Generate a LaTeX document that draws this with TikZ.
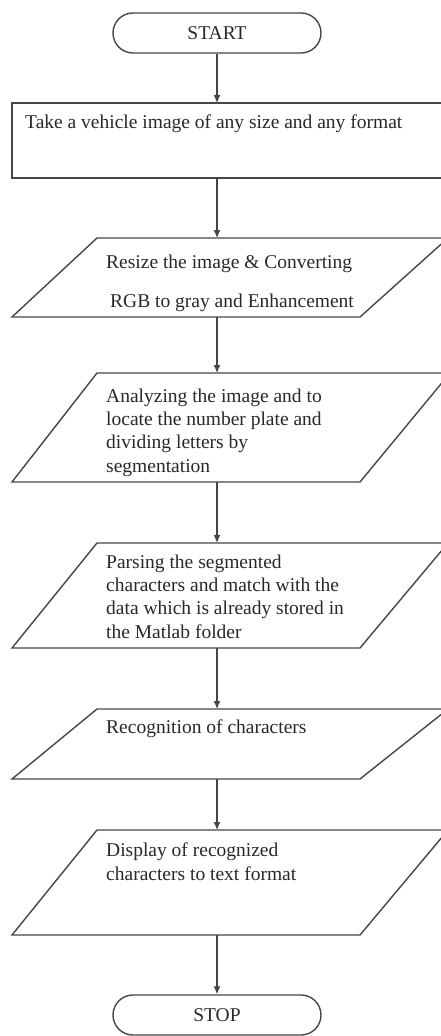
\documentclass[tikz,border=0pt]{standalone}
\usepackage{fontspec}
\setmainfont{Liberation Serif}
\usetikzlibrary{arrows.meta}
\definecolor{linegray}{RGB}{70,70,70}
\definecolor{textblack}{RGB}{40,40,40}
\begin{document}
\begin{tikzpicture}[x=1pt,y=-1pt,
  shapeline/.style={draw=linegray, line width=1.4pt, line join=miter},
  term/.style={shapeline, rounded corners=20pt, minimum width=208pt, minimum height=40pt,
    inner sep=0pt, font=\fontsize{19.5}{22}\selectfont, text=textblack},
  txt/.style={inner sep=0pt, anchor=base west, align=left, text=textblack,
    font=\fontsize{19.5}{23.3}\selectfont},
  arr/.style={draw=linegray, line width=1.3pt, -{Latex[length=8pt,width=7pt]}}]
\useasboundingbox (0,0) rectangle (441,1036);
\begin{scope}
\clip (0,0) rectangle (441,1036);
% START
\node[term] (start) at (217,33) {START};
% rectangle
\draw[shapeline] (445,103) -- (12,103) -- (12,178) -- (445,178);
\coordinate (r-top) at (217,103);
\coordinate (r-bot) at (217,178);
\node[txt] (t0) at (25,128) {Take a vehicle image of any size and any format};
% parallelograms (multi-line text nodes are placed at their last baseline)
\draw[shapeline] (12,317) -- (360,317) -- (448,238) -- (97,238) -- cycle;
\coordinate (p1-top) at (217,238); \coordinate (p1-bot) at (217,317);
\node[txt] (t1a) at (106,268) {Resize the image \& Converting};
\node[txt] (t1b) at (110,307) {RGB to gray and Enhancement};
\draw[shapeline] (12,482) -- (360,482) -- (450,373) -- (97,373) -- cycle;
\coordinate (p2-top) at (217,373); \coordinate (p2-bot) at (217,482);
\node[txt] (t2) at (106,472) {Analyzing the image and to\\locate the number plate and\\dividing letters by\\segmentation};
\draw[shapeline] (12,648) -- (360,648) -- (448,543) -- (97,543) -- cycle;
\coordinate (p3-top) at (217,543); \coordinate (p3-bot) at (217,648);
\node[txt] (t3) at (106,638) {Parsing the segmented\\characters and match with the\\data which is already stored in\\the Matlab folder};
\draw[shapeline] (12,779) -- (360,779) -- (448,709) -- (97,709) -- cycle;
\coordinate (p4-top) at (217,709); \coordinate (p4-bot) at (217,779);
\node[txt] (t4) at (106,733) {Recognition of characters};
\draw[shapeline] (12,935) -- (360,935) -- (448,830) -- (97,830) -- cycle;
\coordinate (p5-top) at (217,830); \coordinate (p5-bot) at (217,935);
\node[txt] (t5) at (106,880) {Display of recognized\\characters to text format};
% STOP
\node[term] (stop) at (217,1015) {STOP};
\end{scope}
% connectors
\draw[arr] (start.south) -- (r-top);
\draw[arr] (r-bot) -- (p1-top);
\draw[arr] (p1-bot) -- (p2-top);
\draw[arr] (p2-bot) -- (p3-top);
\draw[arr] (p3-bot) -- (p4-top);
\draw[arr] (p4-bot) -- (p5-top);
\draw[arr] (p5-bot) -- (stop.north);
\end{tikzpicture}
\end{document}
